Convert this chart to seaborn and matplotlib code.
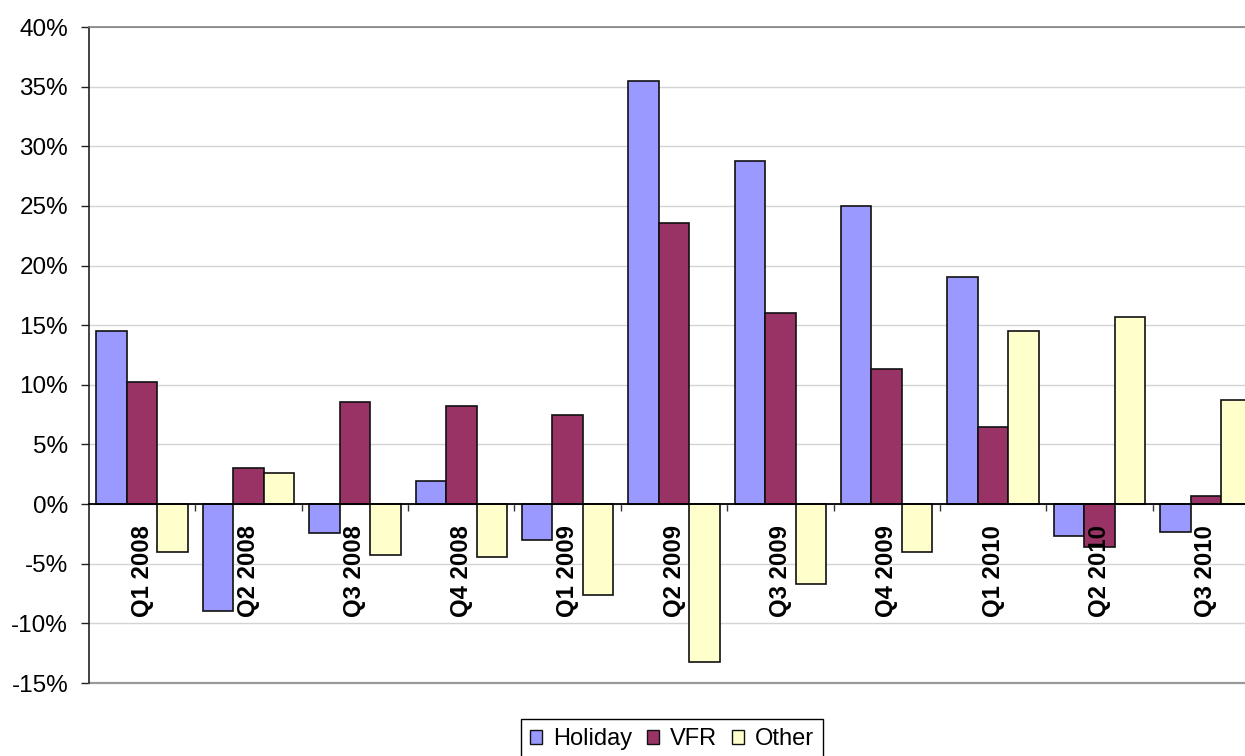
import matplotlib
matplotlib.use("Agg")
import matplotlib.pyplot as plt
import seaborn as sns
import pandas as pd
from matplotlib.ticker import FuncFormatter, FixedLocator
from matplotlib.patches import Patch

# Quarterly growth by purpose of visit (%)
quarters = ["Q1 2008", "Q2 2008", "Q3 2008", "Q4 2008", "Q1 2009", "Q2 2009",
            "Q3 2009", "Q4 2009", "Q1 2010", "Q2 2010", "Q3 2010"]
holiday = [14.5, -9.0, -2.4, 1.9, -3.0, 35.5, 28.75, 25.0, 19.0, -2.7, -2.3]
vfr = [10.2, 3.0, 8.55, 8.2, 7.5, 23.6, 16.0, 11.3, 6.45, -3.6, 0.67]
other = [-4.0, 2.6, -4.25, -4.4, -7.6, -13.2, -6.7, -4.0, 14.5, 15.7, 8.7]
series = ["Holiday", "VFR", "Other"]
colors = ["#9999FF", "#993366", "#FFFFCC"]

df = pd.DataFrame({
    "quarter": quarters * 3,
    "purpose": [s for s in series for _ in quarters],
    "growth": holiday + vfr + other,
})

sns.set_style("white")
plt.rcParams["font.family"] = ["Liberation Sans", "DejaVu Sans"]
plt.rcParams["text.color"] = "black"
plt.rcParams["xtick.color"] = "black"
plt.rcParams["ytick.color"] = "black"

fig = plt.figure(figsize=(12.45, 7.56), dpi=100)
ax = fig.add_axes([89 / 1245, 73 / 756, 1170 / 1245, 656 / 756])

sns.barplot(data=df, x="quarter", y="growth", hue="purpose", order=quarters,
            hue_order=series, palette=colors, width=0.86, gap=0,
            edgecolor="#111111", linewidth=1.2, saturation=1, legend=False,
            ax=ax, zorder=3)

ax.set_xlim(-0.5, len(quarters) - 0.5)
ax.set_ylim(-15, 40)
ax.set_xlabel("")
ax.set_ylabel("")

# y axis: percent ticks with light gridlines
ax.yaxis.set_major_locator(FixedLocator(range(-15, 41, 5)))
ax.yaxis.set_major_formatter(FuncFormatter(lambda v, _: f"{v:.0f}%"))
ax.tick_params(axis="y", direction="out", length=6, width=1, color="#222222",
               labelcolor="black", labelsize=17.5, pad=9, left=True)
ax.grid(axis="y", color="#d4d4d4", linewidth=1, zorder=0)
ax.set_axisbelow(True)

# category axis sits on the zero line, with ticks between quarters
ax.spines["bottom"].set_position(("data", 0))
ax.spines["bottom"].set_color("black")
ax.spines["bottom"].set_linewidth(1.3)
ax.spines["bottom"].set_zorder(4)
ax.set_xticks([i + 0.5 for i in range(len(quarters))])
ax.set_xticklabels([])
ax.tick_params(axis="x", direction="out", length=5, width=1, color="#333333",
               bottom=True)

ax.spines["left"].set_color("#222222")
ax.spines["left"].set_linewidth(1.2)
ax.spines["top"].set_color("#808080")
ax.spines["top"].set_linewidth(1.2)
ax.spines["right"].set_visible(False)
ax.axhline(-15, color="#999999", linewidth=1.6, clip_on=False, zorder=2)

# rotated quarter labels just below the zero line
for i, q in enumerate(quarters):
    ax.annotate(q, xy=(i, 0), xytext=(0, -15), textcoords="offset points",
                rotation=90, ha="center", va="top", fontsize=17.2,
                fontweight="bold", color="black", zorder=5)

handles = [Patch(facecolor=c, edgecolor="#111111", linewidth=1, label=s)
           for s, c in zip(series, colors)]
leg = fig.legend(handles=handles, loc="upper center",
                 bbox_to_anchor=(672 / 1245, 1 - 719 / 756), ncol=3,
                 fontsize=17, frameon=True, fancybox=False, framealpha=1,
                 edgecolor="black", handlelength=0.5, handleheight=0.5,
                 handletextpad=0.45, columnspacing=0.65, borderpad=0.4,
                 borderaxespad=0, labelcolor="black")
leg.get_frame().set_linewidth(1)

fig.savefig("out.png", dpi=100)
